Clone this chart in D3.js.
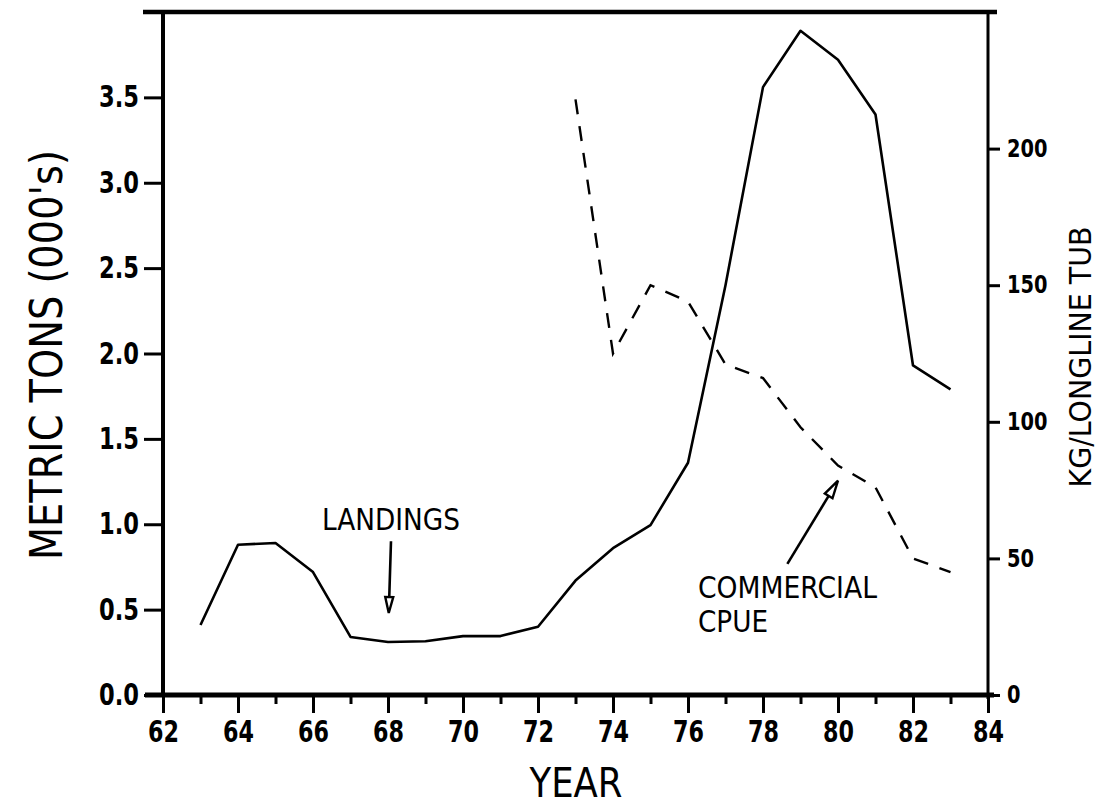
<!DOCTYPE html>
<html>
<head>
<meta charset="utf-8">
<script src="https://cdn.jsdelivr.net/npm/d3@7"></script>
<style>
  body { margin: 0; background: #fff; }
  svg { display: block; }
  text { font-family: "DejaVu Sans", sans-serif; fill: #000; }
</style>
</head>
<body>
<svg width="1100" height="808"></svg>
<script>
// Years on the x axis
const years = [63, 64, 65, 66, 67, 68, 69, 70, 71, 72, 73, 74, 75, 76, 77, 78, 79, 80, 81, 82, 83];
// Landings, metric tons (000's) - solid line, left axis
const landings = [0.41, 0.88, 0.89, 0.72, 0.34, 0.31, 0.315, 0.345, 0.345, 0.40, 0.67, 0.86, 0.995, 1.36, 2.4, 3.56, 3.89, 3.72, 3.40, 1.93, 1.79];
// Commercial CPUE, kg/longline tub - dashed line, right axis (starts 1973)
const cpueYears = [73, 74, 75, 76, 77, 78, 79, 80, 81, 82, 83];
const cpue = [218, 125, 150, 144, 121, 116, 98, 84, 76, 50, 45];

// Tick labels
const xTicks = [62, 64, 66, 68, 70, 72, 74, 76, 78, 80, 82, 84];
const xMinor = [63, 65, 67, 69, 71, 73, 75, 77, 79, 81, 83];
const leftTicks = [0, 0.5, 1.0, 1.5, 2.0, 2.5, 3.0, 3.5];
const rightTicks = [0, 50, 100, 150, 200];

const svg = d3.select("svg");

// plot area in pixels
const plotL = 163, plotR = 988, plotT = 12, plotB = 695;

const x = d3.scaleLinear().domain([62, 84]).range([plotL, plotR]);
const yL = d3.scaleLinear().domain([0, 4]).range([plotB, plotT]);
const yR = d3.scaleLinear().domain([0, 250]).range([plotB, plotT]);

// ---- axes ----
const gLeft = svg.append("g")
    .attr("transform", "translate(" + plotL + ",0)")
    .call(d3.axisLeft(yL).tickValues(leftTicks).tickFormat(d3.format(".1f")).tickSize(19).tickPadding(5));

const gBottom = svg.append("g")
    .attr("transform", "translate(0," + plotB + ")")
    .call(d3.axisBottom(x).tickValues(xTicks).tickFormat(d => d).tickSize(18).tickPadding(8));

svg.append("g")
    .attr("transform", "translate(0," + plotB + ")")
    .call(d3.axisBottom(x).tickValues(xMinor).tickFormat("").tickSize(9));

const gRight = svg.append("g")
    .attr("transform", "translate(" + plotR + ",0)")
    .call(d3.axisRight(yR).tickValues(rightTicks).tickSize(12).tickPadding(7));

svg.selectAll(".domain").remove();
svg.selectAll(".tick line").attr("stroke", "#000").attr("stroke-width", 3);

gLeft.selectAll("text")
    .style("font-size", "30px").style("font-weight", "bold")
    .attr("textLength", 40).attr("lengthAdjust", "spacingAndGlyphs");
gBottom.selectAll("text")
    .style("font-size", "30px").style("font-weight", "bold")
    .attr("textLength", 31).attr("lengthAdjust", "spacingAndGlyphs");
gRight.selectAll("text")
    .style("font-size", "24px").style("font-weight", "bold")
    .attr("textLength", d => String(d).length * 13.5).attr("lengthAdjust", "spacingAndGlyphs");

// ---- frame ----
svg.append("line").attr("x1", plotL - 20).attr("x2", plotR + 9).attr("y1", plotT).attr("y2", plotT)
    .attr("stroke", "#000").attr("stroke-width", 4.5);
svg.append("line").attr("x1", plotL).attr("x2", plotL).attr("y1", plotT).attr("y2", plotB + 2)
    .attr("stroke", "#000").attr("stroke-width", 4);
svg.append("line").attr("x1", plotL - 18).attr("x2", plotR + 6).attr("y1", plotB).attr("y2", plotB)
    .attr("stroke", "#000").attr("stroke-width", 5);
svg.append("line").attr("x1", plotR).attr("x2", plotR).attr("y1", plotT).attr("y2", plotB + 4)
    .attr("stroke", "#000").attr("stroke-width", 3);

// ---- data lines ----
const landLine = d3.line().x((d, i) => x(years[i])).y(d => yL(d));
svg.append("path")
    .attr("d", landLine(landings))
    .attr("fill", "none").attr("stroke", "#000").attr("stroke-width", 2.6)
    .attr("stroke-linejoin", "round");

const cpueLine = d3.line().x((d, i) => x(cpueYears[i])).y(d => yR(d));
svg.append("path")
    .attr("d", cpueLine(cpue))
    .attr("fill", "none").attr("stroke", "#000").attr("stroke-width", 2.4)
    .attr("stroke-dasharray", "15,12");

// ---- annotations ----
function arrow(x0, y0, x1, y1, headLen, headW) {
    const ang = Math.atan2(y1 - y0, x1 - x0);
    const bx = x1 - headLen * Math.cos(ang), by = y1 - headLen * Math.sin(ang);
    const px = -Math.sin(ang) * headW / 2, py = Math.cos(ang) * headW / 2;
    svg.append("line").attr("x1", x0).attr("y1", y0).attr("x2", bx).attr("y2", by)
        .attr("stroke", "#000").attr("stroke-width", 2.6);
    svg.append("path")
        .attr("d", "M" + x1 + "," + y1 + "L" + (bx + px) + "," + (by + py) + "L" + (bx - px) + "," + (by - py) + "Z")
        .attr("fill", "#fff").attr("stroke", "#000").attr("stroke-width", 2.4);
}

svg.append("text").attr("x", 322).attr("y", 530)
    .style("font-size", "30px").attr("textLength", 138).attr("lengthAdjust", "spacingAndGlyphs")
    .text("LANDINGS");
arrow(x(68.08), yL(0.9), x(68.02), yL(0.48), 16, 8);

svg.append("text").attr("x", 698).attr("y", 598)
    .style("font-size", "30px").attr("textLength", 179).attr("lengthAdjust", "spacingAndGlyphs")
    .text("COMMERCIAL");
svg.append("text").attr("x", 698).attr("y", 632)
    .style("font-size", "30px").attr("textLength", 70).attr("lengthAdjust", "spacingAndGlyphs")
    .text("CPUE");
arrow(x(78.65), yR(48), x(80), yR(78.5), 18, 9);

// ---- axis titles ----
svg.append("text").attr("x", 576).attr("y", 797)
    .attr("text-anchor", "middle")
    .style("font-size", "40px").attr("textLength", 93).attr("lengthAdjust", "spacingAndGlyphs")
    .text("YEAR");

svg.append("text")
    .attr("transform", "translate(62,355) rotate(-90)")
    .attr("text-anchor", "middle")
    .style("font-size", "44px").attr("textLength", 410).attr("lengthAdjust", "spacingAndGlyphs")
    .text("METRIC TONS (000's)");

svg.append("text")
    .attr("transform", "translate(1091,357) rotate(-90)")
    .attr("text-anchor", "middle")
    .style("font-size", "30px").attr("textLength", 261).attr("lengthAdjust", "spacingAndGlyphs")
    .text("KG/LONGLINE TUB");
</script>
</body>
</html>
